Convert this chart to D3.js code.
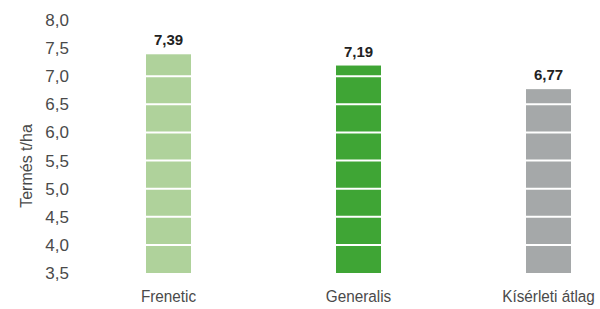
<!DOCTYPE html>
<html>
<head>
<meta charset="utf-8">
<script src="https://cdn.jsdelivr.net/npm/d3@7"></script>
<style>
  body { margin: 0; background: #fff; }
  svg { display: block; font-family: "Liberation Sans", Arial, sans-serif; }
</style>
</head>
<body>
<div id="chart"></div>
<script>
const categories = ["Frenetic", "Generalis", "Kísérleti átlag"];
const values = [7.39, 7.19, 6.77];
const colors = ["#afd29b", "#3fa535", "#a5a8a9"];
const yTicks = [3.5, 4.0, 4.5, 5.0, 5.5, 6.0, 6.5, 7.0, 7.5, 8.0];

const width = 600;
const height = 309;
const fmt = (v, d) => v.toFixed(d).replace(".", ",");

const svg = d3.select("#chart")
    .append("svg")
    .attr("width", width)
    .attr("height", height);

// scales
const x = d3.scalePoint()
    .domain(categories)
    .range([168.5, 548.5]);

const y = d3.scaleLinear()
    .domain([3.5, 8.0])
    .range([273, 20]);

const barWidth = 45;

// y axis (labels only)
const yAxis = d3.axisLeft(y)
    .tickValues(yTicks)
    .tickFormat(d => fmt(d, 1))
    .tickSize(0)
    .tickPadding(0);

const gy = svg.append("g")
    .attr("transform", "translate(69,0)")
    .call(yAxis);
gy.select(".domain").remove();
gy.selectAll("text")
    .attr("font-size", 17)
    .attr("font-family", "Liberation Sans, Arial, sans-serif")
    .attr("fill", "#4a4a4a");

svg.append("text")
    .attr("transform", "rotate(-90)")
    .attr("x", -166)
    .attr("y", 32)
    .attr("text-anchor", "middle")
    .attr("font-size", 16)
    .attr("fill", "#4a4a4a")
    .text("Termés t/ha");

// bars
const bars = svg.append("g");
bars.selectAll("rect")
    .data(values)
    .join("rect")
    .attr("x", (d, i) => x(categories[i]) - barWidth / 2)
    .attr("y", d => y(d))
    .attr("width", barWidth)
    .attr("height", d => y(3.5) - y(d))
    .attr("fill", (d, i) => colors[i]);

// white separators at every tick inside the bars
values.forEach((v, i) => {
    bars.selectAll(null)
        .data(yTicks.filter(t => t > 3.5 && t < v))
        .join("line")
        .attr("x1", x(categories[i]) - barWidth / 2)
        .attr("x2", x(categories[i]) + barWidth / 2)
        .attr("y1", t => y(t))
        .attr("y2", t => y(t))
        .attr("stroke", "#fff")
        .attr("stroke-width", 2);
});

// value labels
svg.append("g").selectAll("text")
    .data(values)
    .join("text")
    .attr("x", (d, i) => x(categories[i]))
    .attr("y", d => y(d) - 9)
    .attr("text-anchor", "middle")
    .attr("font-size", 15)
    .attr("font-weight", "bold")
    .attr("fill", "#222")
    .text(d => fmt(d, 2));

// category labels (slightly condensed)
svg.append("g").selectAll("text")
    .data(categories)
    .join("text")
    .attr("transform", d => `translate(${x(d)},302) scale(0.9,1)`)
    .attr("text-anchor", "middle")
    .attr("font-size", 17)
    .attr("fill", "#4a4a4a")
    .text(d => d);
</script>
</body>
</html>
